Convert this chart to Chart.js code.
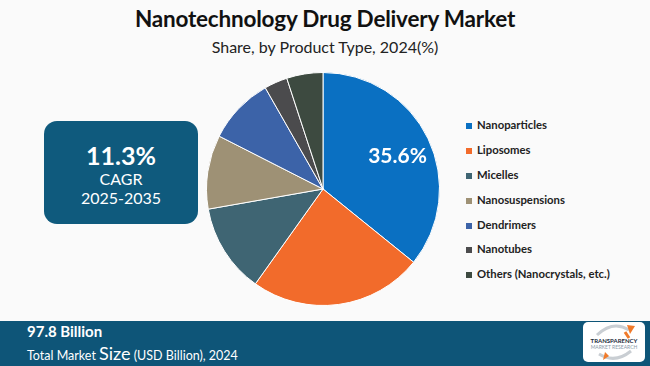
<!DOCTYPE html>
<html>
<head>
<meta charset="utf-8">
<script src="https://cdn.jsdelivr.net/npm/chart.js@4.4.1/dist/chart.umd.min.js"></script>
<style>
  html,body{margin:0;padding:0;}
  body{width:650px;height:366px;background:#fafafa;position:relative;overflow:hidden;font-family:Lato,"Open Sans",sans-serif;}
  #title{position:absolute;left:0;width:650px;top:5px;text-align:center;font-weight:700;font-size:22.5px;color:#111;letter-spacing:-0.2px;}
  #subtitle{position:absolute;left:0;width:650px;top:37px;text-align:center;font-size:16px;color:#222;}
  #box{position:absolute;left:44px;top:121px;width:154px;height:103px;background:#0f5a7d;border-radius:13px;color:#fff;text-align:center;}
  #box .big{position:absolute;left:0;width:100%;top:20px;font-weight:700;font-size:25px;line-height:28px;}
  #box .sm{position:absolute;left:0;width:100%;font-size:16px;line-height:18px;}
  #chartwrap{position:absolute;left:193px;top:59px;width:260px;height:260px;}
  #legend{position:absolute;left:466px;top:0;}
  .li{position:absolute;white-space:nowrap;font-weight:700;font-size:11.3px;color:#222;}
  .li span.sw{position:absolute;left:0;top:-3px;width:6px;height:6px;}
  .li span.tx{position:absolute;left:11px;top:-8px;}
  #bar{position:absolute;left:0;top:321px;width:650px;height:45px;background:#0e5578;}
  #mv{position:absolute;left:27px;top:322px;color:#fff;font-weight:700;font-size:15px;}
  #ms{position:absolute;left:27px;top:342px;color:#fff;font-size:12.5px;}
  #ms .s{font-size:18px;}
  #logo{position:absolute;left:583px;top:322px;width:62px;height:40px;background:#fff;border-radius:5px;text-align:center;}
  #logo .t1{position:absolute;left:0;width:100%;top:15px;font-size:6px;font-weight:700;color:#1b2a3a;}
  #logo .t2{position:absolute;left:0;width:100%;top:22px;font-size:5px;color:#8a9aa8;}
</style>
</head>
<body>
<div id="title">Nanotechnology Drug Delivery Market</div>
<div id="subtitle">Share, by Product Type, 2024(%)</div>
<div id="box">
  <div class="big">11.3%</div>
  <div class="sm" style="top:49px">CAGR</div>
  <div class="sm" style="top:68px">2025-2035</div>
</div>
<div id="chartwrap"><canvas id="c"></canvas></div>
<div id="legend"></div>
<div id="bar"></div>
<div id="mv">97.8 Billion</div>
<div id="ms">Total Market <span class="s">Size</span> (USD Billion), 2024</div>
<div id="logo">
  <svg width="62" height="40" style="position:absolute;left:0;top:0">
    <path d="M14 13 Q30 -2 46 8" stroke="#c9ced3" stroke-width="3" fill="none"/>
    <path d="M44 3 L52 4 L47 12 Z" fill="#f07a2a"/>
    <path d="M46 16 L42 10" stroke="#f07a2a" stroke-width="3"/>
    <path d="M48 29 Q32 42 16 32" stroke="#c9ced3" stroke-width="3" fill="none"/>
    <path d="M22 30 L20 38 L26 34 Z" fill="#f07a2a"/>
  </svg>
  <div class="t1">TRANSPARENCY</div>
  <div class="t2">MARKET RESEARCH</div>
</div>
<script>
const categories = ["Nanoparticles","Liposomes","Micelles","Nanosuspensions","Dendrimers","Nanotubes","Others (Nanocrystals, etc.)"];
const shares = [35.6, 23.9, 12.3, 10.2, 9.2, 3.2, 5.0];
const sliceColors = ["#0a70c2","#f26b2b","#3f6573","#9e9175","#3c63a8","#4b4b4d","#3d4a40"];
const labelIndex = 0;
const labelText = "35.6%";
const legendRows = [126,151,176,201,226,250,275];

const leg = document.getElementById('legend');
categories.forEach((c,i)=>{
  const d=document.createElement('div');d.className='li';d.style.top=legendRows[i]+'px';
  d.innerHTML='<span class="sw" style="background:'+sliceColors[i]+'"></span><span class="tx">'+c+'</span>';
  leg.appendChild(d);
});

const labelPlugin = {
  id:'sliceLabel',
  afterDatasetsDraw(chart){
    const arc = chart.getDatasetMeta(0).data[labelIndex];
    const mid = (arc.startAngle+arc.endAngle)/2;
    const r = arc.outerRadius*0.69;
    const ctx = chart.ctx;
    ctx.save();
    ctx.fillStyle='#fff';
    ctx.font='700 21px Lato, sans-serif';
    ctx.textAlign='center';ctx.textBaseline='middle';
    ctx.fillText(labelText, arc.x+Math.cos(mid)*r+2, arc.y+Math.sin(mid)*r+2);
    ctx.restore();
  }
};

new Chart(document.getElementById('c'),{
  type:'pie',
  data:{labels:categories,datasets:[{data:shares,backgroundColor:sliceColors,borderColor:'#ffffff',borderWidth:1}]},
  options:{
    responsive:true,maintainAspectRatio:false,animation:false,
    layout:{padding:13},
    plugins:{legend:{display:false},tooltip:{enabled:false}}
  },
  plugins:[labelPlugin]
});
</script>
</body>
</html>
